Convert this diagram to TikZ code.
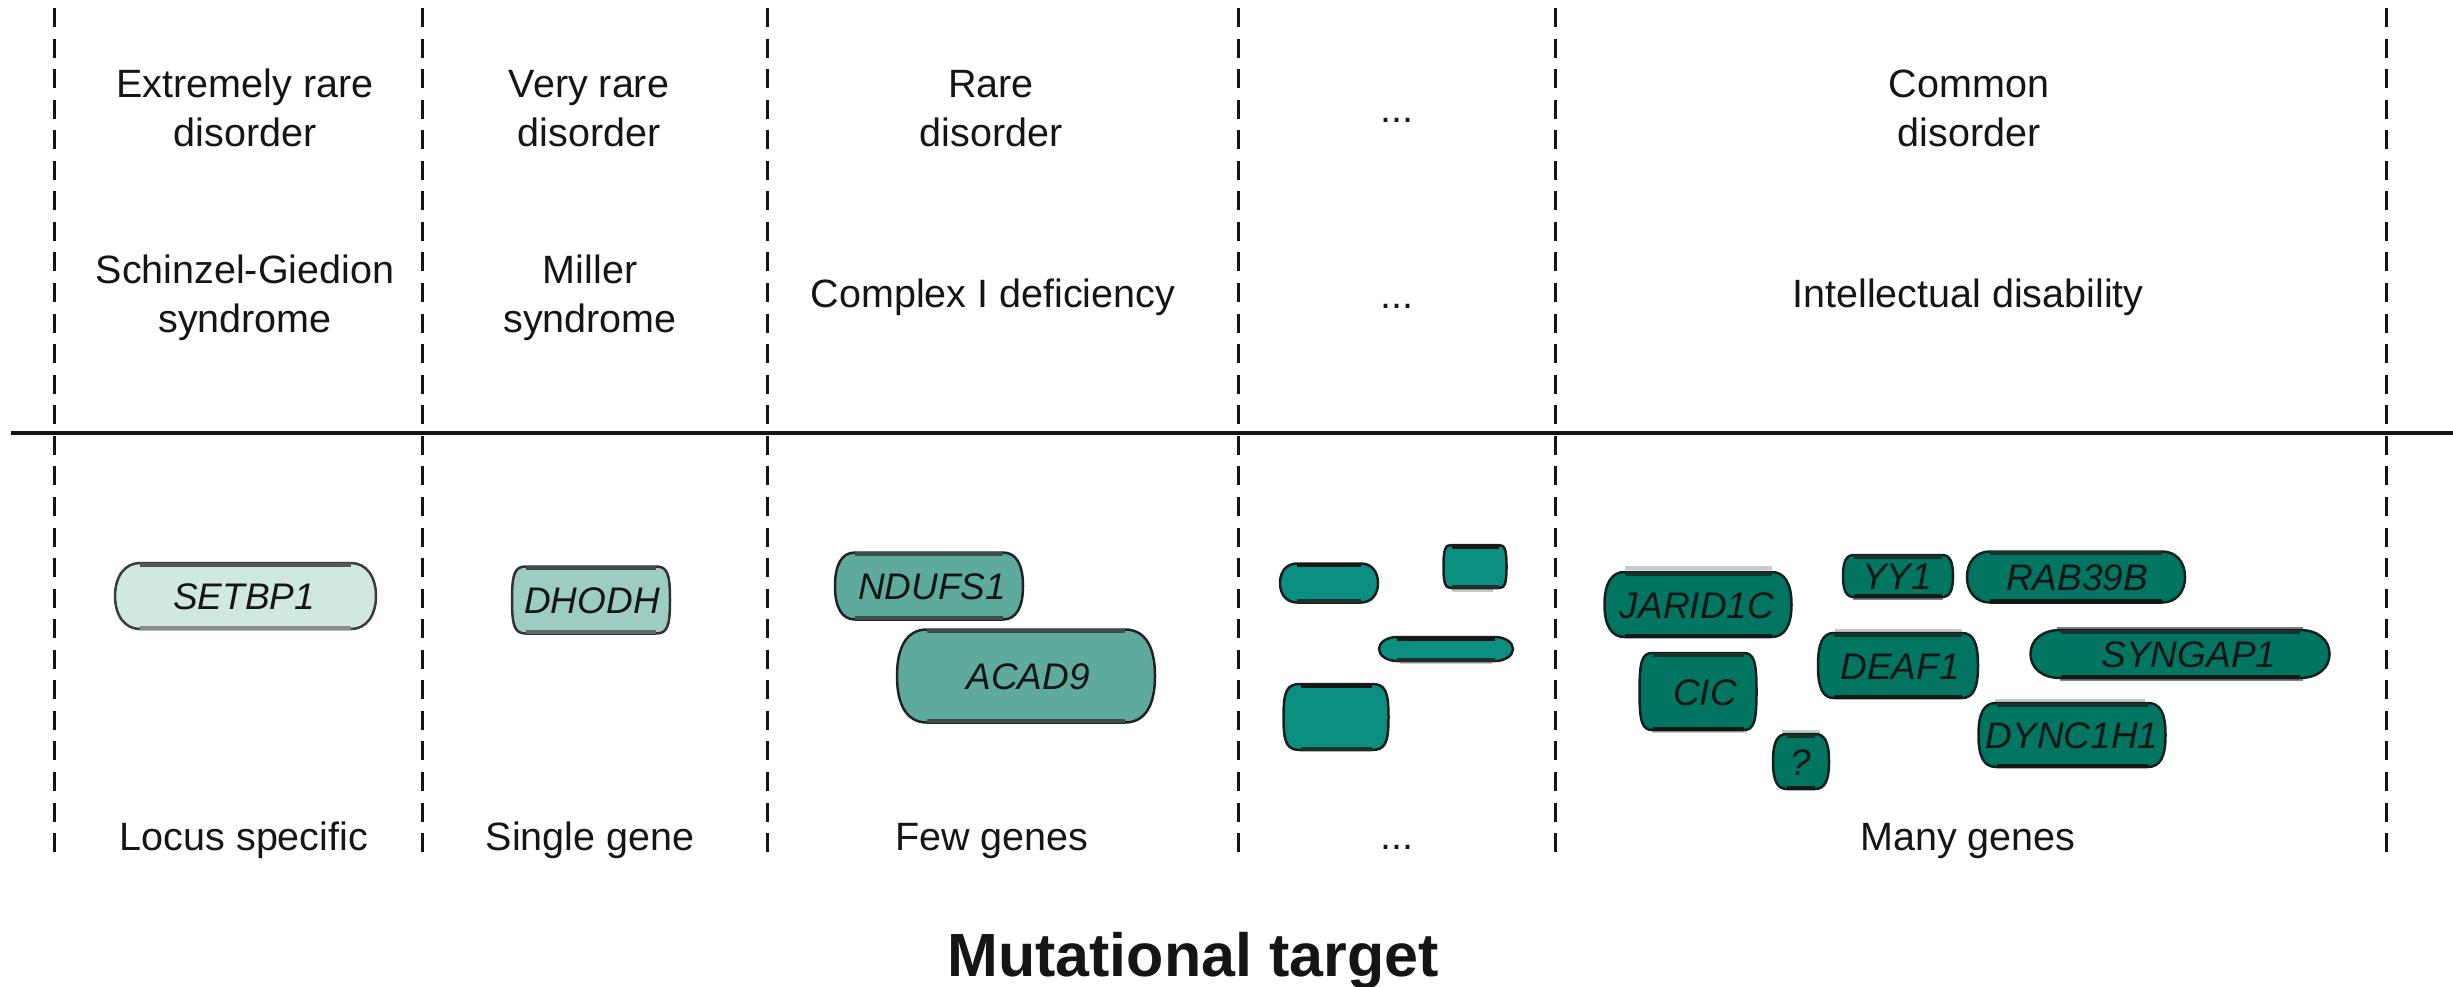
\documentclass[tikz,border=0pt]{standalone}
\usepackage{fontspec}
\setmainfont{Liberation Sans}
\definecolor{ink}{HTML}{151515}
\definecolor{setFill}{HTML}{CFE8E2}\definecolor{setLine}{HTML}{3C3C3C}\definecolor{setTop}{HTML}{575757}\definecolor{setBot}{HTML}{878F8C}
\definecolor{midFill}{HTML}{9DCDC2}\definecolor{midLine}{HTML}{333333}\definecolor{midTop}{HTML}{3F4947}\definecolor{midBot}{HTML}{5E6866}
\definecolor{fewFill}{HTML}{5EAA9D}\definecolor{fewLine}{HTML}{222222}\definecolor{fewTop}{HTML}{3D4F4B}\definecolor{fewBot}{HTML}{3D4F4B}
\definecolor{dotFill}{HTML}{0B8F80}\definecolor{dotLine}{HTML}{1C1C1C}\definecolor{dotTop}{HTML}{161616}\definecolor{dotBot}{HTML}{1D302C}
\definecolor{manyFill}{HTML}{007562}\definecolor{manyLine}{HTML}{13201E}\definecolor{manyTop}{HTML}{17332E}\definecolor{manyBot}{HTML}{111917}
\definecolor{shLight}{HTML}{C9C9C9}\definecolor{shMid}{HTML}{7E8784}
\tikzset{
  lbl/.style={font=\fontsize{39.5}{49}\selectfont, inner sep=0pt, anchor=base, align=center, text=ink},
  gene/.style={font=\fontsize{37}{44}\selectfont\itshape, inner sep=0pt, anchor=base, text=ink},
  titletext/.style={font=\fontsize{61}{70}\selectfont\bfseries, inner sep=0pt, anchor=base, text=ink},
  divider/.style={line width=3pt, dash pattern=on 19pt off 11.56pt, draw=ink},
  axisline/.style={line width=3.5pt, draw=ink},
  light body/.style={fill=setFill, draw=setLine, line width=2.5pt},
  light top/.style={draw=setTop, line width=4pt},
  light bot/.style={draw=setBot, line width=4pt},
  mid body/.style={fill=midFill, draw=midLine, line width=2.5pt},
  mid top/.style={draw=midTop, line width=4pt},
  mid bot/.style={draw=midBot, line width=4pt},
  few body/.style={fill=fewFill, draw=fewLine, line width=2.5pt},
  few top/.style={draw=fewTop, line width=4pt},
  few bot/.style={draw=fewBot, line width=4pt},
  dots body/.style={fill=dotFill, draw=dotLine, line width=2.5pt},
  dots top/.style={draw=dotTop, line width=4pt},
  dots bot/.style={draw=dotBot, line width=4pt},
  many body/.style={fill=manyFill, draw=manyLine, line width=2.5pt},
  many top/.style={draw=manyTop, line width=4pt},
  many bot/.style={draw=manyBot, line width=4pt},
  shadowlight/.style={draw=shLight, line width=4pt},
  shadowmid/.style={draw=shMid, line width=4pt},
}
% #1 cx, #2 cy, #3 w, #4 h, #5 end depth, #6 curve factor, #7 group
\newcommand\genepill[7]{%
  \pgfmathsetmacro\GPxa{#1-#3/2}%
  \pgfmathsetmacro\GPxb{#1+#3/2}%
  \pgfmathsetmacro\GPya{#2-#4/2}%
  \pgfmathsetmacro\GPyb{#2+#4/2}%
  \pgfmathsetmacro\GPxc{\GPxa+#5}%
  \pgfmathsetmacro\GPxd{\GPxb-#5}%
  \pgfmathsetmacro\GPkx{#6*#5}%
  \pgfmathsetmacro\GPky{#6*#4/2}%
  \path[#7 body] (\GPxc,\GPya) -- (\GPxd,\GPya)
    .. controls (\GPxd+\GPkx,\GPya) and (\GPxb,#2-\GPky) .. (\GPxb,#2)
    .. controls (\GPxb,#2+\GPky) and (\GPxd+\GPkx,\GPyb) .. (\GPxd,\GPyb)
    -- (\GPxc,\GPyb)
    .. controls (\GPxc-\GPkx,\GPyb) and (\GPxa,#2+\GPky) .. (\GPxa,#2)
    .. controls (\GPxa,#2-\GPky) and (\GPxc-\GPkx,\GPya) .. cycle;
  \draw[#7 top] (\GPxc,\GPya+1.5) -- (\GPxd,\GPya+1.5);
  \draw[#7 bot] (\GPxc,\GPyb-1.5) -- (\GPxd,\GPyb-1.5);
}
\begin{document}
\begin{tikzpicture}[x=1pt,y=-1pt]
\useasboundingbox (0,0) rectangle (2453,987);
% dividers
\foreach \n/\xx in {1/54,2/422,3/767,4/1238,5/1555,6/2386}{
  \coordinate (d\n t) at (\xx,8);
  \coordinate (d\n b) at (\xx,852.3);
}
\foreach \n in {1,...,6}{\draw[divider] (d\n t) -- (d\n b);}
\coordinate (hl) at (11,433);
\coordinate (hr) at (2453,433);
\draw[axisline] (hl) -- (hr);
% row 1 (base anchor = last line)
\node[lbl] (r1c1) at (245,147) {Extremely rare\\disorder};
\node[lbl] (r1c2) at (589,147) {Very rare\\disorder};
\node[lbl] (r1c3) at (991,147) {Rare\\disorder};
\node[lbl] (r1c4) at (1397,123) {...};
\node[lbl] (r1c5) at (1969,147) {Common\\disorder};
% row 2
\node[lbl] (r2c1) at (245,332) {Schinzel-Giedion\\syndrome};
\node[lbl] (r2c2) at (590,332) {Miller\\syndrome};
\node[lbl] (r2c3) at (993,307) {Complex I deficiency};
\node[lbl] (r2c4) at (1397,308) {...};
\node[lbl] (r2c5) at (1968,307) {Intellectual disability};
% bottom row
\node[lbl] (b1) at (244,850) {Locus specific};
\node[lbl] (b2) at (590,850) {Single gene};
\node[lbl] (b3) at (992,850) {Few genes};
\node[lbl] (b4) at (1397,849) {...};
\node[lbl] (b5) at (1968,850) {Many genes};
\node[titletext] (title) at (1193,976) {Mutational target};
% shadows
\draw[shadowlight] (1625,568) -- (1772,568);
\draw[shadowlight] (1835,631) -- (1962,631);
\draw[shadowlight] (1652,731) -- (1747,731);
\draw[shadowlight] (1782,732) -- (1820,732);
\draw[shadowmid] (1853,598) -- (1943,598);
\draw[shadowmid] (2057,629) -- (2303,629);
\draw[shadowmid] (2060,679) -- (2303,679);
\draw[shadowlight] (1995,701) -- (2145,701);
\draw[shadowlight] (1452,590) -- (1493,590);
\draw[shadowlight] (1400,662) -- (1492,662);
% pills
\genepill{245.5}{596}{261}{66}{25}{0.6}{light}
\genepill{591}{600}{158}{67}{14}{0.8}{mid}
\genepill{929}{586}{188}{67}{20}{0.65}{few}
\genepill{1026}{676}{258}{93}{30}{0.65}{few}
\genepill{1329}{583}{98}{39}{17}{0.6}{dots}
\genepill{1475}{566.5}{63}{43}{8}{0.8}{dots}
\genepill{1446}{649}{134}{24}{18}{0.55}{dots}
\genepill{1336}{717}{105}{66}{17}{0.8}{dots}
\genepill{1698}{604.5}{187}{65}{20}{0.65}{many}
\genepill{1898}{576}{110}{42}{11}{0.7}{many}
\genepill{2076}{577}{218}{51}{23}{0.6}{many}
\genepill{1898}{665.5}{160}{65}{16}{0.7}{many}
\genepill{2180}{654}{299}{48}{30}{0.6}{many}
\genepill{1698}{691.5}{117}{77}{13}{0.8}{many}
\genepill{1801}{761.5}{56}{55}{14}{0.7}{many}
\genepill{2072}{735}{187}{64}{18}{0.7}{many}
% gene labels
\node[gene] (g-setbp1) at (244,609.5) {SETBP1};
\node[gene] (g-dhodh) at (592,613.5) {DHODH};
\node[gene] (g-ndufs1) at (932,599.5) {NDUFS1};
\node[gene] (g-acad9) at (1028,689.5) {ACAD9};
\node[gene] (g-jarid1c) at (1697,618) {JARID1C};
\node[gene] (g-yy1) at (1897,589.5) {YY1};
\node[gene] (g-rab39b) at (2077,590.5) {RAB39B};
\node[gene] (g-deaf1) at (1900,679) {DEAF1};
\node[gene] (g-syngap1) at (2189,667.5) {SYNGAP1};
\node[gene] (g-cic) at (1705,705) {CIC};
\node[gene] (g-q) at (1801,775) {?};
\node[gene] (g-dync1h1) at (2072,748.5) {DYNC1H1};
\end{tikzpicture}
\end{document}
